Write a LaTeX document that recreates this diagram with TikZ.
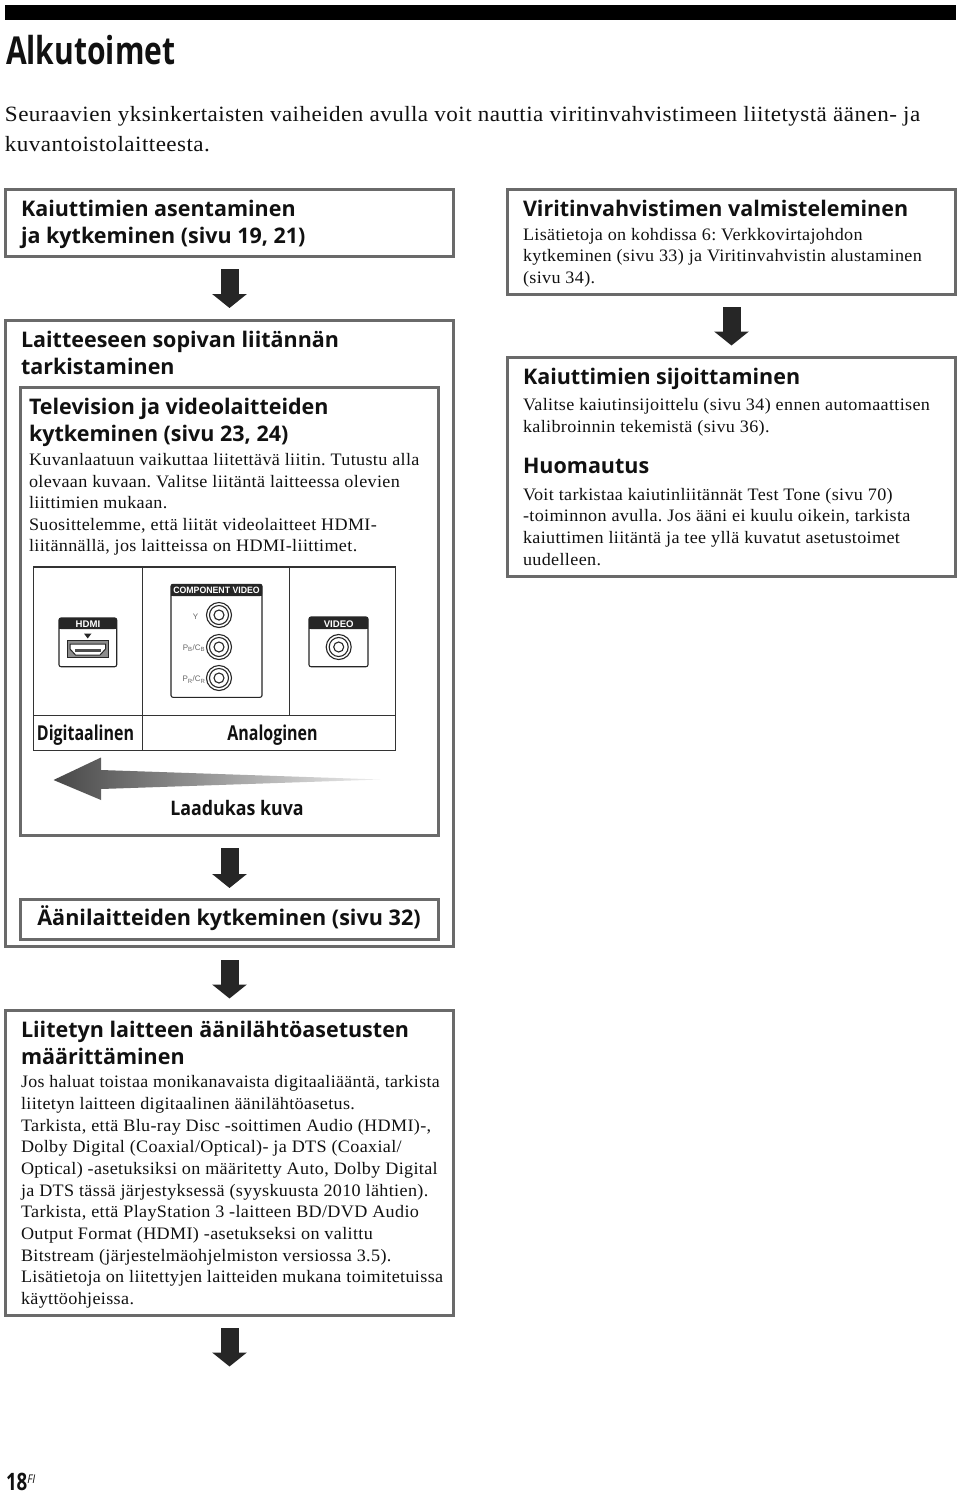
\documentclass[tikz,border=0pt]{standalone}
\usepackage{fontspec}
\usetikzlibrary{arrows.meta}
\setmainfont{Liberation Serif}
\frenchspacing
\newfontfamily\bodyf[LetterSpace=2.0,FakeStretch=1.035]{Liberation Serif}
\newfontfamily\bodynf[LetterSpace=2.0,FakeStretch=1.02]{Liberation Serif}
\newfontfamily\introf[LetterSpace=2.0,FakeStretch=1.06]{Liberation Serif}
\newfontfamily\headf[FakeStretch=1.0]{Open Sans}
\newfontfamily\condf[FakeStretch=0.78]{Open Sans}
\newfontfamily\narrowf[FakeStretch=0.89]{Open Sans}
\newfontfamily\panelf{Liberation Sans}
\definecolor{framegray}{HTML}{6A6A6A}
\definecolor{ink}{HTML}{111111}
\tikzset{
  x=1pt,y=-1pt,
  txt/.style={anchor=base west,inner sep=0pt,outer sep=0pt,text=ink},
  ctxt/.style={anchor=base,inner sep=0pt,outer sep=0pt,text=ink},
  body/.style={font=\bodyf\fontsize{17.5}{20}\selectfont},
  bodyn/.style={font=\bodynf\fontsize{17.5}{20}\selectfont},
  intro/.style={font=\introf\fontsize{21.8}{24}\selectfont},
  hd/.style={font=\headf\bfseries\fontsize{21.5}{26}\selectfont},
  gbox/.style={draw=framegray,line width=3pt,fill=white,anchor=north west,inner sep=0pt,outer sep=0pt},
  blockarrow/.style={draw=black!85,line width=18pt,-{Triangle[length=14pt,width=34pt,fill=black!85]}},
  tcell/.style={draw=black!80,line width=1.1pt},
  panel/.style={draw=black!85,line width=1.1pt,fill=white,rounded corners=2pt},
  panelhead/.style={fill=black!85,rounded corners=2pt},
  paneltxt/.style={inner sep=0pt,text=white,font=\panelf\bfseries\fontsize{9.6}{10}\selectfont},
  plabel/.style={inner sep=0pt,text=black!60,font=\panelf\fontsize{8}{8}\selectfont},
  jack/.style={draw=black!85,line width=1.1pt,fill=white}
}
\newcommand{\jackat}[3]{%
  \node[jack,circle,minimum size=25pt,inner sep=0pt] (#3a) at (#1,#2) {};
  \node[jack,circle,minimum size=19pt,inner sep=0pt] (#3b) at (#1,#2) {};
  \node[jack,circle,minimum size=10pt,inner sep=0pt] (#3c) at (#1,#2) {};
}
\begin{document}
\begin{tikzpicture}
\useasboundingbox (0,0) rectangle (960,1494);
\fill[white] (0,0) rectangle (960,1494);
\fill[black] (5,4.5) rectangle (956,20);

% title and intro
\node[txt,font=\condf\bfseries\fontsize{38.5}{44}\selectfont] (title) at (6,64) {Alkutoimet};
\node[txt,intro] (in1) at (5,121) {Seuraavien yksinkertaisten vaiheiden avulla voit nauttia viritinvahvistimeen liitetystä äänen- ja};
\node[txt,intro] (in2) at (5,151.7) {kuvantoistolaitteesta.};

% frames
\node[gbox,minimum width=448pt,minimum height=67pt] (b1) at (5.5,189.5) {};
\node[gbox,minimum width=448pt,minimum height=626pt] (b2) at (5.5,320.5) {};
\node[gbox,minimum width=418pt,minimum height=448pt] (b2a) at (20.5,387.5) {};
\node[gbox,minimum width=418pt,minimum height=40pt] (b2b) at (20.5,899) {};
\node[gbox,minimum width=448pt,minimum height=305pt] (b3) at (5.5,1010.5) {};
\node[gbox,minimum width=448pt,minimum height=105pt] (r1) at (507.5,189.5) {};
\node[gbox,minimum width=448pt,minimum height=219pt] (r2) at (507.5,357.5) {};
\coordinate (endc) at (229.5,1390);

% block arrows
\draw[blockarrow,shorten <=12.5pt,shorten >=12.5pt] (b1.south) -- (b2.north);
\draw[blockarrow,shorten <=12.5pt,shorten >=12pt] (r1.south) -- (r2.north);
\draw[blockarrow,shorten <=12.5pt,shorten >=11pt] (b2a.south) -- (b2b.north);
\draw[blockarrow,shorten <=13.5pt,shorten >=12pt] (b2.south) -- (b3.north);
\draw[blockarrow,shorten <=12.5pt,shorten >=23.5pt] (b3.south) -- (endc);

% left headings
\node[txt,hd] (t1) at (21,216) {Kaiuttimien asentaminen};
\node[txt,hd] (t2) at (21,243) {ja kytkeminen (sivu 19, 21)};
\node[txt,hd] (t3) at (21,347) {Laitteeseen sopivan liitännän};
\node[txt,hd] (t4) at (21,374) {tarkistaminen};
\node[txt,hd] (t5) at (29,414) {Television ja videolaitteiden};
\node[txt,hd] (t6) at (29,441.5) {kytkeminen (sivu 23, 24)};
\node[txt,body] (t7) at (29,465) {Kuvanlaatuun vaikuttaa liitettävä liitin. Tutustu alla};
\node[txt,body] (t8) at (29,487) {olevaan kuvaan. Valitse liitäntä laitteessa olevien};
\node[txt,body] (t9) at (29,508.5) {liittimien mukaan.};
\node[txt,body] (t10) at (29,530) {Suosittelemme, että liität videolaitteet HDMI-};
\node[txt,body] (t11) at (29,551.5) {liitännällä, jos laitteissa on HDMI-liittimet.};

% connector table
\draw[tcell,line width=1.8pt] (33.5,567) rectangle (395.5,750.5);
\draw[tcell] (142.5,567) -- (142.5,750.5);
\draw[tcell] (289.5,567) -- (289.5,715.5);
\draw[tcell] (33.5,715.5) -- (395.5,715.5);

% HDMI panel
\draw[panel] (59,618) rectangle (116.7,666.7);
\fill[panelhead] (59,618) rectangle (116.7,629);
\fill[black!85] (59,625) rectangle (116.7,629);
\node[paneltxt] (lhdmi) at (88,624) {HDMI};
\fill[black!85] (84,633.5) -- (91.5,633.5) -- (87.7,638.5) -- cycle;
\draw[fill=black!45,draw=black!85,line width=.8pt] (67.3,640) rectangle (108.3,657);
\draw[fill=white,draw=black!85,line width=1pt] (70,644) -- (105.5,644) -- (105.5,649) -- (100,655) -- (75.5,655) -- (70,649) -- cycle;
\draw[fill=black!70,draw=none] (75,648.5) rectangle (101,651.5);

% component panel
\draw[panel] (171,584.3) rectangle (262,697.3);
\fill[panelhead] (171,584.3) rectangle (262,596);
\fill[black!85] (171,591) rectangle (262,596);
\node[paneltxt,font=\panelf\bfseries\fontsize{9.2}{10}\selectfont,xscale=0.95] (lcomp) at (216.5,590.5) {COMPONENT VIDEO};
\jackat{219}{615}{ja}
\jackat{219}{647}{jb}
\jackat{219}{678}{jc}
\node[plabel] (ly) at (195.5,617) {Y};
\node[plabel] (lpb) at (194,648) {P\textsubscript{B}/C\textsubscript{B}};
\node[plabel] (lpr) at (194,679.5) {P\textsubscript{R}/C\textsubscript{R}};

% video panel
\draw[panel] (309,617) rectangle (368,666.7);
\fill[panelhead] (309,617) rectangle (368,629);
\fill[black!85] (309,624) rectangle (368,629);
\node[paneltxt] (lvid) at (338.7,624) {VIDEO};
\jackat{338.7}{647}{jd}

% table labels
\node[ctxt,font=\condf\bfseries\fontsize{20.5}{24}\selectfont] (ldig) at (85.5,740) {Digitaalinen};
\node[ctxt,font=\condf\bfseries\fontsize{20.5}{24}\selectfont] (lana) at (272.5,740) {Analoginen};

% quality arrow
\shade[left color=black!72,right color=black!6,draw=none]
  (53.5,780) -- (101,757.5) -- (101,770) -- (380,779.5) -- (101,789) -- (101,800) -- cycle;
\node[ctxt,font=\narrowf\bfseries\fontsize{20}{24}\selectfont] (lq) at (237,815) {Laadukas kuva};

% audio box text
\node[ctxt,font=\headf\bfseries\fontsize{21.6}{28}\selectfont] (ta) at (229,925.5) {Äänilaitteiden kytkeminen (sivu 32)};

% third box
\node[txt,hd] (u1) at (21,1037) {Liitetyn laitteen äänilähtöasetusten};
\node[txt,hd] (u2) at (21,1064) {määrittäminen};
\node[txt,bodyn] (u3) at (21,1087) {Jos haluat toistaa monikanavaista digitaaliääntä, tarkista};
\node[txt,body] (u4) at (21,1109) {liitetyn laitteen digitaalinen äänilähtöasetus.};
\node[txt,body] (u5) at (21,1131) {Tarkista, että Blu-ray Disc -soittimen Audio (HDMI)-,};
\node[txt,body] (u6) at (21,1152.5) {Dolby Digital (Coaxial/Optical)- ja DTS (Coaxial/};
\node[txt,body] (u7) at (21,1174) {Optical) -asetuksiksi on määritetty Auto, Dolby Digital};
\node[txt,body] (u8) at (21,1196) {ja DTS tässä järjestyksessä (syyskuusta 2010 lähtien).};
\node[txt,body] (u9) at (21,1217) {Tarkista, että PlayStation 3 -laitteen BD/DVD Audio};
\node[txt,body] (u10) at (21,1239) {Output Format (HDMI) -asetukseksi on valittu};
\node[txt,body] (u11) at (21,1261) {Bitstream (järjestelmäohjelmiston versiossa 3.5).};
\node[txt,body] (u12) at (21,1282) {Lisätietoja on liitettyjen laitteiden mukana toimitetuissa};
\node[txt,body] (u13) at (21,1304) {käyttöohjeissa.};

% right column
\node[txt,hd] (v1) at (523,216) {Viritinvahvistimen valmisteleminen};
\node[txt,body] (v2) at (523,240) {Lisätietoja on kohdissa 6: Verkkovirtajohdon};
\node[txt,body] (v3) at (523,261.5) {kytkeminen (sivu 33) ja Viritinvahvistin alustaminen};
\node[txt,body] (v4) at (523,283) {(sivu 34).};
\node[txt,hd] (v5) at (523,384) {Kaiuttimien sijoittaminen};
\node[txt,body] (v6) at (523,410.5) {Valitse kaiutinsijoittelu (sivu 34) ennen automaattisen};
\node[txt,body] (v7) at (523,432) {kalibroinnin tekemistä (sivu 36).};
\node[txt,hd] (v8) at (523,473) {Huomautus};
\node[txt,body] (v9) at (523,500) {Voit tarkistaa kaiutinliitännät Test Tone (sivu 70)};
\node[txt,body] (v10) at (523,521.5) {-toiminnon avulla. Jos ääni ei kuulu oikein, tarkista};
\node[txt,body] (v11) at (523,543.5) {kaiuttimen liitäntä ja tee yllä kuvatut asetustoimet};
\node[txt,body] (v12) at (523,565) {uudelleen.};

% page number
\node[txt,font=\condf\bfseries\fontsize{24}{28}\selectfont] (pg) at (6,1490.5) {18};
\node[txt,font=\narrowf\itshape\fontsize{12}{12}\selectfont] (fi) at (pg.base east) [yshift=7pt] {FI};
\end{tikzpicture}
\end{document}
